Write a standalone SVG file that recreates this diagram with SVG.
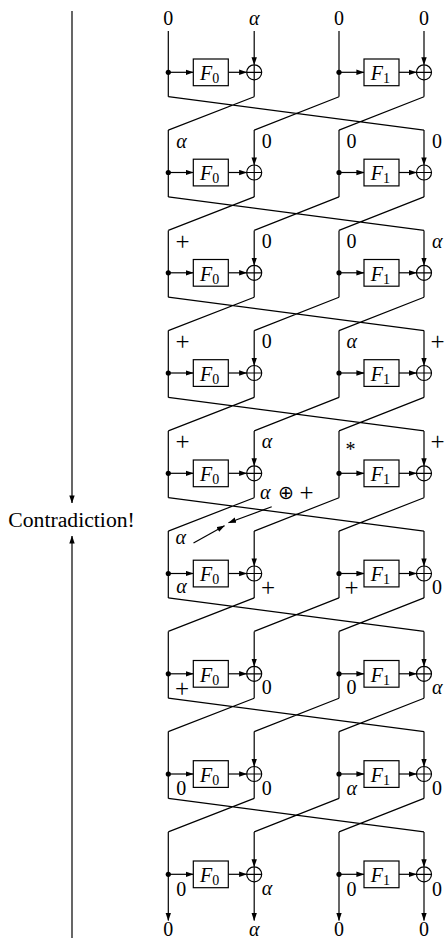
<svg xmlns="http://www.w3.org/2000/svg" xmlns:xlink="http://www.w3.org/1999/xlink" width="446" height="939" viewBox="0 0 446 939">
  <style>
    .ln { fill: none; stroke: #000; stroke-width: 1.2; }
    .ar { fill: none; stroke: #000; stroke-width: 1.2; marker-end: url(#ah); }
    .box { fill: #fff; stroke: #000; stroke-width: 1.2; }
    .dot { fill: #000; }
    .t { font-family: "Liberation Serif", "DejaVu Serif", serif; font-size: 20px; fill: #000; }
    .m { font-style: italic; }
    .c { text-anchor: middle; }
    .p { font-size: 25px; }
    .sub { font-size: 14px; font-style: normal; }
  </style>
  <defs>
    <marker id="ah" viewBox="0 0 8 6" refX="7.6" refY="3" markerWidth="8" markerHeight="6" markerUnits="userSpaceOnUse" orient="auto">
      <path d="M0,0.3 L8,3 L0,5.7 Z" fill="#000"/>
    </marker>
    <g id="xor">
      <circle r="7.5" fill="#fff" stroke="#000" stroke-width="1.2"/>
      <path d="M-7.5,0H7.5M0,-7.5V7.5" stroke="#000" stroke-width="1.2"/>
    </g>
  </defs>

  <rect width="446" height="939" fill="#fff"/>

  <!-- connectors: wires, round arrows and the half-round swaps -->
  <g id="connectors">
    <!-- round 0 -->
    <path class="ln" d="M168.3,31V96.7M339,31V96.7M254.2,79.8V96.7M424,79.8V96.7"/>
    <path class="ar" d="M254.2,31V64.8"/><path class="ar" d="M424,31V64.8"/>
    <path class="ar" d="M168.3,72.3H193.3"/><path class="ar" d="M228.3,72.3H246.7"/>
    <path class="ar" d="M339,72.3H364"/><path class="ar" d="M399,72.3H416.5"/>
    <path class="ln" d="M168.3,96.7L424,130.1M254.2,96.7L168.3,130.1M339,96.7L254.2,130.1M424,96.7L339,130.1"/>
    <!-- round 1 -->
    <path class="ln" d="M168.3,130.1V196.9M339,130.1V196.9M254.2,180V196.9M424,180V196.9"/>
    <path class="ar" d="M254.2,130.1V165"/><path class="ar" d="M424,130.1V165"/>
    <path class="ar" d="M168.3,172.5H193.3"/><path class="ar" d="M228.3,172.5H246.7"/>
    <path class="ar" d="M339,172.5H364"/><path class="ar" d="M399,172.5H416.5"/>
    <path class="ln" d="M168.3,196.9L424,230.4M254.2,196.9L168.3,230.4M339,196.9L254.2,230.4M424,196.9L339,230.4"/>
    <!-- round 2 -->
    <path class="ln" d="M168.3,230.4V297.2M339,230.4V297.2M254.2,280.3V297.2M424,280.3V297.2"/>
    <path class="ar" d="M254.2,230.4V265.3"/><path class="ar" d="M424,230.4V265.3"/>
    <path class="ar" d="M168.3,272.8H193.3"/><path class="ar" d="M228.3,272.8H246.7"/>
    <path class="ar" d="M339,272.8H364"/><path class="ar" d="M399,272.8H416.5"/>
    <path class="ln" d="M168.3,297.2L424,330.6M254.2,297.2L168.3,330.6M339,297.2L254.2,330.6M424,297.2L339,330.6"/>
    <!-- round 3 -->
    <path class="ln" d="M168.3,330.6V397.4M339,330.6V397.4M254.2,380.5V397.4M424,380.5V397.4"/>
    <path class="ar" d="M254.2,330.6V365.5"/><path class="ar" d="M424,330.6V365.5"/>
    <path class="ar" d="M168.3,373H193.3"/><path class="ar" d="M228.3,373H246.7"/>
    <path class="ar" d="M339,373H364"/><path class="ar" d="M399,373H416.5"/>
    <path class="ln" d="M168.3,397.4L424,430.9M254.2,397.4L168.3,430.9M339,397.4L254.2,430.9M424,397.4L339,430.9"/>
    <!-- round 4 -->
    <path class="ln" d="M168.3,430.9V497.7M339,430.9V497.7M254.2,480.8V497.7M424,480.8V497.7"/>
    <path class="ar" d="M254.2,430.9V465.8"/><path class="ar" d="M424,430.9V465.8"/>
    <path class="ar" d="M168.3,473.3H193.3"/><path class="ar" d="M228.3,473.3H246.7"/>
    <path class="ar" d="M339,473.3H364"/><path class="ar" d="M399,473.3H416.5"/>
    <path class="ln" d="M168.3,497.7L424,531.1M254.2,497.7L168.3,531.1M339,497.7L254.2,531.1M424,497.7L339,531.1"/>
    <!-- round 5 -->
    <path class="ln" d="M168.3,531.1V597.9M339,531.1V597.9M254.2,581V597.9M424,581V597.9"/>
    <path class="ar" d="M254.2,531.1V566"/><path class="ar" d="M424,531.1V566"/>
    <path class="ar" d="M168.3,573.5H193.3"/><path class="ar" d="M228.3,573.5H246.7"/>
    <path class="ar" d="M339,573.5H364"/><path class="ar" d="M399,573.5H416.5"/>
    <path class="ln" d="M168.3,597.9L424,631.4M254.2,597.9L168.3,631.4M339,597.9L254.2,631.4M424,597.9L339,631.4"/>
    <!-- round 6 -->
    <path class="ln" d="M168.3,631.4V698.2M339,631.4V698.2M254.2,681.3V698.2M424,681.3V698.2"/>
    <path class="ar" d="M254.2,631.4V666.3"/><path class="ar" d="M424,631.4V666.3"/>
    <path class="ar" d="M168.3,673.8H193.3"/><path class="ar" d="M228.3,673.8H246.7"/>
    <path class="ar" d="M339,673.8H364"/><path class="ar" d="M399,673.8H416.5"/>
    <path class="ln" d="M168.3,698.2L424,731.6M254.2,698.2L168.3,731.6M339,698.2L254.2,731.6M424,698.2L339,731.6"/>
    <!-- round 7 -->
    <path class="ln" d="M168.3,731.6V798.4M339,731.6V798.4M254.2,781.5V798.4M424,781.5V798.4"/>
    <path class="ar" d="M254.2,731.6V766.5"/><path class="ar" d="M424,731.6V766.5"/>
    <path class="ar" d="M168.3,774H193.3"/><path class="ar" d="M228.3,774H246.7"/>
    <path class="ar" d="M339,774H364"/><path class="ar" d="M399,774H416.5"/>
    <path class="ln" d="M168.3,798.4L424,831.9M254.2,798.4L168.3,831.9M339,798.4L254.2,831.9M424,798.4L339,831.9"/>
    <!-- round 8 and outputs -->
    <path class="ar" d="M168.3,831.9V920.5"/><path class="ar" d="M339,831.9V920.5"/>
    <path class="ar" d="M254.2,881.8V920.5"/><path class="ar" d="M424,881.8V920.5"/>
    <path class="ar" d="M254.2,831.9V866.8"/><path class="ar" d="M424,831.9V866.8"/>
    <path class="ar" d="M168.3,874.3H193.3"/><path class="ar" d="M228.3,874.3H246.7"/>
    <path class="ar" d="M339,874.3H364"/><path class="ar" d="M399,874.3H416.5"/>
    <!-- annotation arrows meeting in the middle -->
    <path class="ar" d="M271.7,506.7L228.5,522.8"/>
    <path class="ar" d="M193.5,543L224.5,525.8"/>
    <!-- side arrows towards the contradiction -->
    <path class="ar" d="M72,11V503"/>
    <path class="ar" d="M72,938V536"/>
  </g>

  <!-- round functions -->
  <g id="f-boxes">
    <g id="r0-f0"><rect class="box" x="193.3" y="59" width="35" height="26.7"/><text class="t m" x="200" y="80">F<tspan class="sub" dy="3">0</tspan></text></g>
    <g id="r0-f1"><rect class="box" x="364" y="59" width="35" height="26.7"/><text class="t m" x="370.7" y="80">F<tspan class="sub" dy="3">1</tspan></text></g>
    <g id="r1-f0"><rect class="box" x="193.3" y="159.2" width="35" height="26.7"/><text class="t m" x="200" y="180.2">F<tspan class="sub" dy="3">0</tspan></text></g>
    <g id="r1-f1"><rect class="box" x="364" y="159.2" width="35" height="26.7"/><text class="t m" x="370.7" y="180.2">F<tspan class="sub" dy="3">1</tspan></text></g>
    <g id="r2-f0"><rect class="box" x="193.3" y="259.5" width="35" height="26.7"/><text class="t m" x="200" y="280.5">F<tspan class="sub" dy="3">0</tspan></text></g>
    <g id="r2-f1"><rect class="box" x="364" y="259.5" width="35" height="26.7"/><text class="t m" x="370.7" y="280.5">F<tspan class="sub" dy="3">1</tspan></text></g>
    <g id="r3-f0"><rect class="box" x="193.3" y="359.7" width="35" height="26.7"/><text class="t m" x="200" y="380.7">F<tspan class="sub" dy="3">0</tspan></text></g>
    <g id="r3-f1"><rect class="box" x="364" y="359.7" width="35" height="26.7"/><text class="t m" x="370.7" y="380.7">F<tspan class="sub" dy="3">1</tspan></text></g>
    <g id="r4-f0"><rect class="box" x="193.3" y="460" width="35" height="26.7"/><text class="t m" x="200" y="481">F<tspan class="sub" dy="3">0</tspan></text></g>
    <g id="r4-f1"><rect class="box" x="364" y="460" width="35" height="26.7"/><text class="t m" x="370.7" y="481">F<tspan class="sub" dy="3">1</tspan></text></g>
    <g id="r5-f0"><rect class="box" x="193.3" y="560.2" width="35" height="26.7"/><text class="t m" x="200" y="581.2">F<tspan class="sub" dy="3">0</tspan></text></g>
    <g id="r5-f1"><rect class="box" x="364" y="560.2" width="35" height="26.7"/><text class="t m" x="370.7" y="581.2">F<tspan class="sub" dy="3">1</tspan></text></g>
    <g id="r6-f0"><rect class="box" x="193.3" y="660.5" width="35" height="26.7"/><text class="t m" x="200" y="681.5">F<tspan class="sub" dy="3">0</tspan></text></g>
    <g id="r6-f1"><rect class="box" x="364" y="660.5" width="35" height="26.7"/><text class="t m" x="370.7" y="681.5">F<tspan class="sub" dy="3">1</tspan></text></g>
    <g id="r7-f0"><rect class="box" x="193.3" y="760.7" width="35" height="26.7"/><text class="t m" x="200" y="781.7">F<tspan class="sub" dy="3">0</tspan></text></g>
    <g id="r7-f1"><rect class="box" x="364" y="760.7" width="35" height="26.7"/><text class="t m" x="370.7" y="781.7">F<tspan class="sub" dy="3">1</tspan></text></g>
    <g id="r8-f0"><rect class="box" x="193.3" y="861" width="35" height="26.7"/><text class="t m" x="200" y="882">F<tspan class="sub" dy="3">0</tspan></text></g>
    <g id="r8-f1"><rect class="box" x="364" y="861" width="35" height="26.7"/><text class="t m" x="370.7" y="882">F<tspan class="sub" dy="3">1</tspan></text></g>
  </g>

  <!-- xor junctions -->
  <g id="xors">
    <use xlink:href="#xor" x="254.2" y="72.3"/><use xlink:href="#xor" x="424" y="72.3"/>
    <use xlink:href="#xor" x="254.2" y="172.5"/><use xlink:href="#xor" x="424" y="172.5"/>
    <use xlink:href="#xor" x="254.2" y="272.8"/><use xlink:href="#xor" x="424" y="272.8"/>
    <use xlink:href="#xor" x="254.2" y="373"/><use xlink:href="#xor" x="424" y="373"/>
    <use xlink:href="#xor" x="254.2" y="473.3"/><use xlink:href="#xor" x="424" y="473.3"/>
    <use xlink:href="#xor" x="254.2" y="573.5"/><use xlink:href="#xor" x="424" y="573.5"/>
    <use xlink:href="#xor" x="254.2" y="673.8"/><use xlink:href="#xor" x="424" y="673.8"/>
    <use xlink:href="#xor" x="254.2" y="774"/><use xlink:href="#xor" x="424" y="774"/>
    <use xlink:href="#xor" x="254.2" y="874.3"/><use xlink:href="#xor" x="424" y="874.3"/>
  </g>

  <!-- branch points -->
  <g id="branches">
    <circle class="dot" cx="168.3" cy="72.3" r="2.6"/><circle class="dot" cx="339" cy="72.3" r="2.6"/>
    <circle class="dot" cx="168.3" cy="172.5" r="2.6"/><circle class="dot" cx="339" cy="172.5" r="2.6"/>
    <circle class="dot" cx="168.3" cy="272.8" r="2.6"/><circle class="dot" cx="339" cy="272.8" r="2.6"/>
    <circle class="dot" cx="168.3" cy="373" r="2.6"/><circle class="dot" cx="339" cy="373" r="2.6"/>
    <circle class="dot" cx="168.3" cy="473.3" r="2.6"/><circle class="dot" cx="339" cy="473.3" r="2.6"/>
    <circle class="dot" cx="168.3" cy="573.5" r="2.6"/><circle class="dot" cx="339" cy="573.5" r="2.6"/>
    <circle class="dot" cx="168.3" cy="673.8" r="2.6"/><circle class="dot" cx="339" cy="673.8" r="2.6"/>
    <circle class="dot" cx="168.3" cy="774" r="2.6"/><circle class="dot" cx="339" cy="774" r="2.6"/>
    <circle class="dot" cx="168.3" cy="874.3" r="2.6"/><circle class="dot" cx="339" cy="874.3" r="2.6"/>
  </g>

  <!-- differences on the wires -->
  <g id="labels" class="t">
    <!-- inputs -->
    <text class="c" x="168.3" y="25">0</text>
    <text class="c m" x="254.2" y="25">α</text>
    <text class="c" x="339" y="25">0</text>
    <text class="c" x="424" y="25">0</text>
    <!-- forward rounds -->
    <text class="m" x="176.3" y="147.5">α</text><text x="261.7" y="147.5">0</text><text x="346.5" y="147.5">0</text><text x="432" y="147.5">0</text>
    <text class="p" x="175.5" y="249.5">+</text><text x="261.7" y="247.8">0</text><text x="346.5" y="247.8">0</text><text class="m" x="432" y="247.8">α</text>
    <text class="p" x="175.5" y="349.7">+</text><text x="261.7" y="348.1">0</text><text class="m" x="346.5" y="348.1">α</text><text class="p" x="430.5" y="349.7">+</text>
    <text class="p" x="175.5" y="450">+</text><text class="m" x="261.7" y="448.4">α</text><text x="345.5" y="456">*</text><text class="p" x="430.5" y="450">+</text>
    <!-- meeting point -->
    <text class="m" x="260" y="498.5">α</text>
    <text x="286" y="499" class="c" style="font-family:'DejaVu Sans',sans-serif;font-size:19px">⊕</text>
    <text class="p" x="299.5" y="500.5">+</text>
    <text class="m" x="175.5" y="544">α</text>
    <!-- backward rounds -->
    <text class="m" x="176.3" y="593">α</text><text class="p" x="261" y="595.5">+</text><text class="p" x="344.5" y="595.5">+</text><text x="432" y="593.5">0</text>
    <text class="p" x="175" y="696.5">+</text><text x="261.7" y="694.3">0</text><text x="346.5" y="694.3">0</text><text class="m" x="432" y="694.3">α</text>
    <text x="176.3" y="794.8">0</text><text x="261.7" y="794.8">0</text><text class="m" x="346.5" y="794.8">α</text><text x="432" y="794.8">0</text>
    <text x="176.3" y="896">0</text><text class="m" x="261.7" y="895.3">α</text><text x="346.5" y="896">0</text><text x="432" y="896">0</text>
    <!-- outputs -->
    <text class="c" x="168.3" y="935.5">0</text>
    <text class="c m" x="254.2" y="935.5">α</text>
    <text class="c" x="339" y="935.5">0</text>
    <text class="c" x="424" y="935.5">0</text>
    <!-- conclusion -->
    <text x="8.3" y="526.5" textLength="126.5" lengthAdjust="spacingAndGlyphs">Contradiction!</text>
  </g>
</svg>
